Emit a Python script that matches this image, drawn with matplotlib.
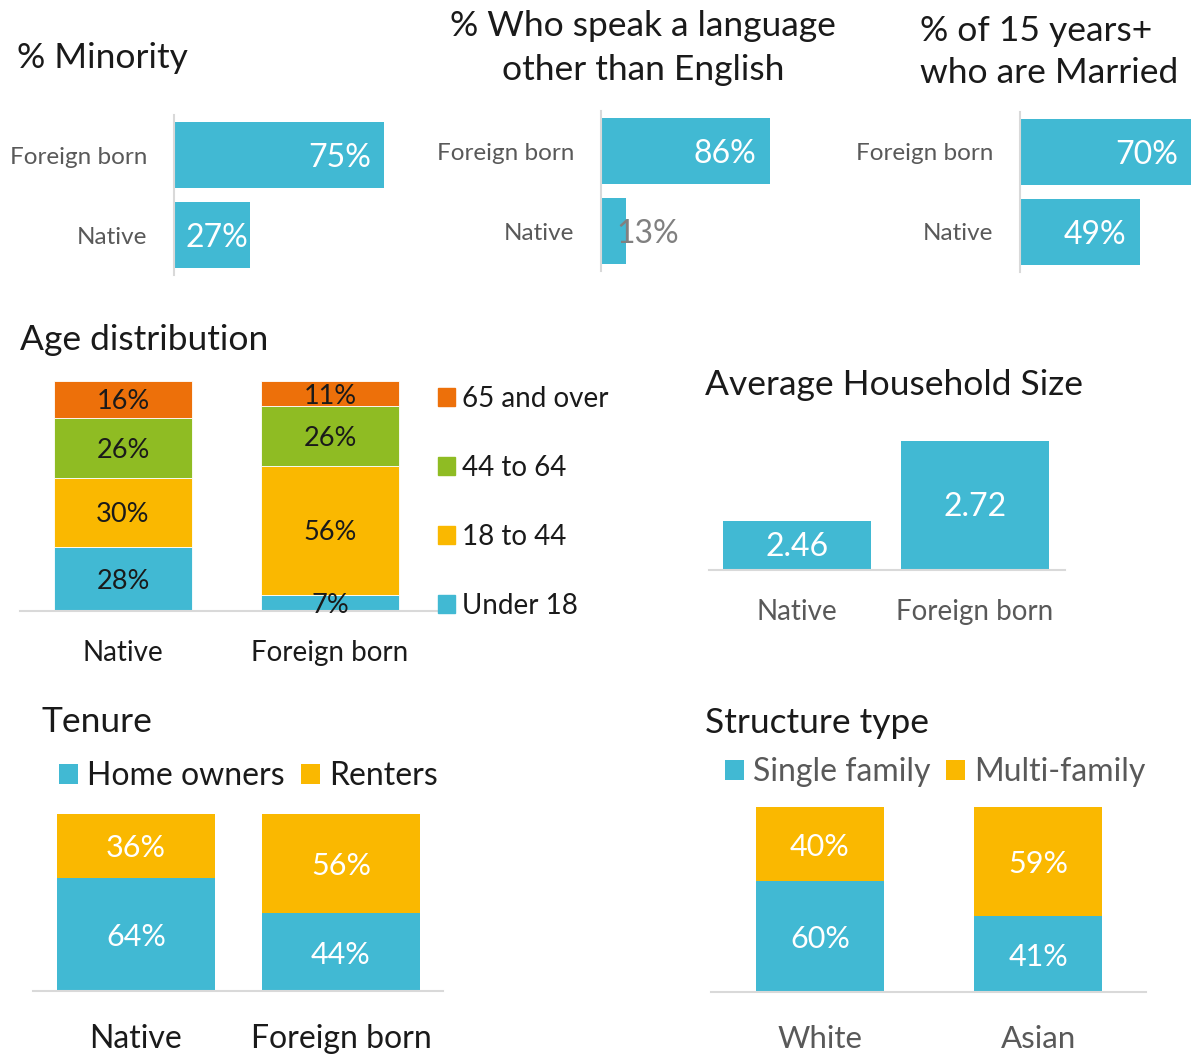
import numpy as np
import matplotlib
matplotlib.use('Agg')
import matplotlib.pyplot as plt
from matplotlib.patches import Patch

# ---- data ----
groups_hbar = ['Native', 'Foreign born']
minority = [27, 75]
language = [13, 86]
married = [49, 70]

age_groups = ['Native', 'Foreign born']
age_labels = ['Under 18', '18 to 44', '44 to 64', '65 and over']
age_under18 = [28, 7]
age_18_44 = [30, 56]
age_44_64 = [26, 26]
age_65plus = [16, 11]

hh_groups = ['Native', 'Foreign born']
hh_size = [2.46, 2.72]

tenure_groups = ['Native', 'Foreign born']
tenure_owners = [64, 44]
tenure_renters = [36, 56]

struct_groups = ['White', 'Asian']
struct_single = [60, 41]
struct_multi = [40, 59]

# ---- style ----
BLUE = '#41b9d3'
ORANGE = '#ed700a'
GREEN = '#8fbc23'
GOLD = '#fab800'
GRAY = '#595959'
DARK = '#1a1a1a'
AXIS = '#d9d9d9'
TITLE_FS = 25.5
VA = 'center_baseline'

plt.rcParams['font.family'] = ['Lato', 'DejaVu Sans']

W, H = 1203, 1055
fig = plt.figure(figsize=(W / 100, H / 100), dpi=100)


def px(l, t, r, b):
    return [l / W, 1 - b / H, (r - l) / W, (b - t) / H]


def clean(ax, left=False, bottom=False):
    for s in ax.spines.values():
        s.set_visible(False)
    if left:
        ax.spines['left'].set_visible(True)
        ax.spines['left'].set_color(AXIS)
        ax.spines['left'].set_linewidth(1.5)
    if bottom:
        ax.spines['bottom'].set_visible(True)
        ax.spines['bottom'].set_color(AXIS)
        ax.spines['bottom'].set_linewidth(1.5)
    ax.tick_params(length=0)


def hbar_panel(rect, vals, xmax):
    ax = fig.add_axes(rect)
    y = np.arange(len(vals))
    ax.barh(y, vals, height=0.825, color=BLUE)
    ax.set_xlim(0, xmax)
    ax.set_ylim(-0.5, 1.5)
    ax.set_yticks(y)
    ax.set_yticklabels(groups_hbar, fontsize=17.5, color=GRAY)
    ax.tick_params(axis='y', pad=19)
    ax.set_xticks([])
    clean(ax, left=True)
    for yi, v in zip(y, vals):
        if v < 20:
            # label does not fit: grey, spilling past the bar end
            ax.annotate(f'{v}%', (v, yi), xytext=(-7.5, 0),
                        textcoords='offset points', ha='left', va=VA,
                        fontsize=23, color='#808080')
        elif v < 30:
            ax.annotate(f'{v}%', (v, yi), xytext=(-1, 0),
                        textcoords='offset points', ha='right', va=VA,
                        fontsize=23, color='white')
        else:
            ax.annotate(f'{v}%', (v, yi), xytext=(-9.5, 0),
                        textcoords='offset points', ha='right', va=VA,
                        fontsize=23, color='white')
    return ax


# top row
hbar_panel(px(174, 115, 398, 275), minority, 80)
hbar_panel(px(601, 111, 797, 271), language, 100)
hbar_panel(px(1020, 112, 1196, 272), married, 72)

fig.text(17 / W, 1 - 58 / H, '% Minority', fontsize=TITLE_FS, color=DARK,
         ha='left', va='center')
fig.text(643 / W, 1 - 48 / H, '% Who speak a language\nother than English',
         fontsize=TITLE_FS, color=DARK, ha='center', va='center',
         linespacing=1.45)
fig.text(920 / W, 1 - 52 / H, '% of 15 years+\nwho are Married',
         fontsize=TITLE_FS, color=DARK, ha='left', va='center',
         linespacing=1.35)

# age distribution
ax = fig.add_axes(px(20, 381, 437, 611))
x = np.arange(2)
bw = 0.667
segs = [age_under18, age_18_44, age_44_64, age_65plus]
cols = [BLUE, GOLD, GREEN, ORANGE]
bottom = np.zeros(2)
handles = []
for vals, c, lab in zip(segs, cols, age_labels):
    ax.bar(x, vals, bw, bottom=bottom, color=c, edgecolor='white', linewidth=0.6)
    for xi, b, v in zip(x, bottom, vals):
        ax.text(xi, b + v / 2, f'{v}%', ha='center', va=VA,
                fontsize=19.5, color=DARK)
    bottom += vals
    handles.append(Patch(color=c, label=lab))
ax.set_xlim(-0.4976, 1.5169)
ax.set_ylim(0, 100)
ax.set_yticks([])
ax.set_xticks(x)
ax.set_xticklabels(age_groups, fontsize=20, color=DARK)
ax.tick_params(axis='x', pad=21)
clean(ax, bottom=True)
fig.legend(handles=handles[::-1], loc='upper left',
           bbox_to_anchor=(438 / W, 1 - 386 / H), frameon=False, fontsize=20,
           borderpad=0, borderaxespad=0,
           handlelength=0.62, handleheight=0.62, handletextpad=0.25,
           labelspacing=1.55, labelcolor=DARK)
fig.text(20 / W, 1 - 340 / H, 'Age distribution', fontsize=TITLE_FS,
         color=DARK, ha='left', va='center')

# average household size
ax = fig.add_axes(px(709, 430, 1065, 570))
x = np.arange(2)
ax.bar(x, np.array(hh_size) - 2.3, 0.83, bottom=2.3, color=BLUE)
for xi, v in zip(x, hh_size):
    ax.text(xi, (2.3 + v) / 2 + 0.005, f'{v:.2f}', ha='center', va=VA,
            fontsize=23, color='white')
ax.set_xlim(-0.494, 1.506)
ax.set_ylim(2.3, 2.755)
ax.set_yticks([])
ax.set_xticks(x)
ax.set_xticklabels(hh_groups, fontsize=20, color=GRAY)
ax.tick_params(axis='x', pad=21)
clean(ax, bottom=True)
fig.text(705 / W, 1 - 385 / H, 'Average Household Size', fontsize=TITLE_FS,
         color=DARK, ha='left', va='center')

# tenure
ax = fig.add_axes(px(33, 814, 443, 991))
x = np.arange(2)
ax.bar(x, tenure_owners, 0.77, color=BLUE, label='Home owners')
ax.bar(x, tenure_renters, 0.77, bottom=tenure_owners, color=GOLD, label='Renters')
for xi, o, r in zip(x, tenure_owners, tenure_renters):
    ax.text(xi, o / 2, f'{o}%', ha='center', va=VA, fontsize=22, color='white')
    ax.text(xi, o + r / 2, f'{r}%', ha='center', va=VA, fontsize=22, color='white')
ax.set_xlim(-0.502, 1.498)
ax.set_ylim(0, 100)
ax.set_yticks([])
ax.set_xticks(x)
ax.set_xticklabels(tenure_groups, fontsize=23, color=DARK)
ax.tick_params(axis='x', pad=24)
clean(ax, bottom=True)
fig.legend(*ax.get_legend_handles_labels(), loc='center left',
           bbox_to_anchor=(59 / W, 1 - 776 / H), ncol=2, frameon=False,
           borderpad=0, borderaxespad=0,
           fontsize=23, handlelength=0.6, handleheight=0.6, handletextpad=0.28,
           columnspacing=0.5, labelcolor=DARK)
fig.text(42 / W, 1 - 722 / H, 'Tenure', fontsize=TITLE_FS, color=DARK,
         ha='left', va='center')

# structure type
ax = fig.add_axes(px(711, 807, 1146, 992))
x = np.arange(2)
ax.bar(x, struct_single, 0.587, color=BLUE, label='Single family')
ax.bar(x, struct_multi, 0.587, bottom=struct_single, color=GOLD, label='Multi-family')
for xi, s, m in zip(x, struct_single, struct_multi):
    ax.text(xi, s / 2, f'{s}%', ha='center', va=VA, fontsize=22, color='white')
    ax.text(xi, s + m / 2, f'{m}%', ha='center', va=VA, fontsize=22, color='white')
ax.set_xlim(-0.5, 1.495)
ax.set_ylim(0, 100)
ax.set_yticks([])
ax.set_xticks(x)
ax.set_xticklabels(struct_groups, fontsize=22.5, color=GRAY)
ax.tick_params(axis='x', pad=24)
clean(ax, bottom=True)
fig.legend(*ax.get_legend_handles_labels(), loc='center left',
           bbox_to_anchor=(725 / W, 1 - 772 / H), ncol=2, frameon=False,
           borderpad=0, borderaxespad=0,
           fontsize=23, handlelength=0.6, handleheight=0.6, handletextpad=0.28,
           columnspacing=0.47, labelcolor=GRAY)
fig.text(705 / W, 1 - 723 / H, 'Structure type', fontsize=TITLE_FS,
         color=DARK, ha='left', va='center')

fig.savefig('out.png', dpi=100)
